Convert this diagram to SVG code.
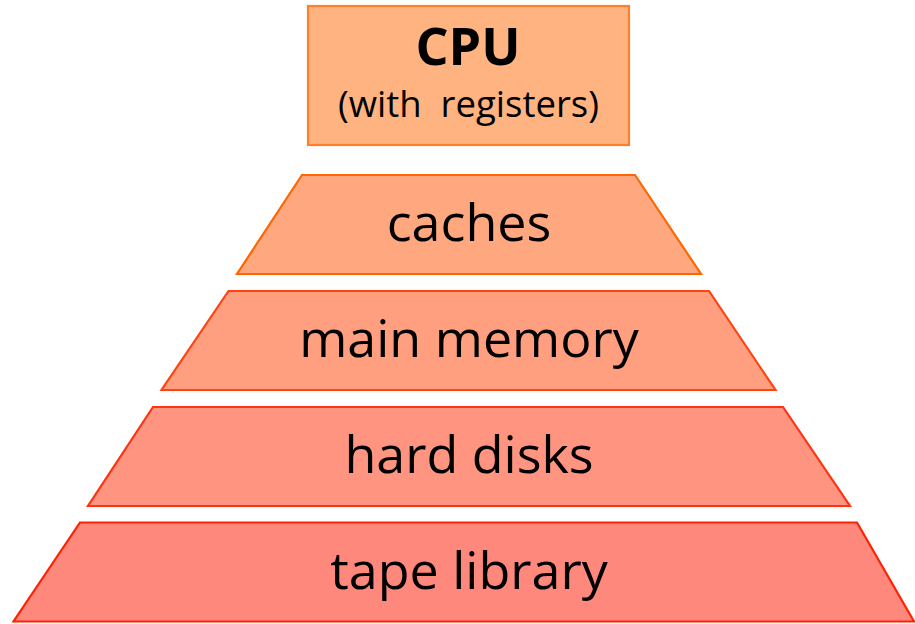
<svg xmlns="http://www.w3.org/2000/svg" width="915" height="624" viewBox="0 0 915 624">
<style>
  .lbl { font-family: "Open Sans", "Noto Sans", "Liberation Sans", sans-serif; fill: #000; text-anchor: middle; }
  .big { font-size: 52px; }
  .shape { stroke-width: 2.2; stroke-linejoin: miter; }
</style>
<rect width="915" height="624" fill="#ffffff"/>
<g id="cpu">
  <rect class="shape" x="308" y="6" width="321" height="139" fill="#FFB380" stroke="#FF7F2A"/>
  <text class="lbl" x="468" y="65" font-size="52" font-weight="bold">CPU</text>
  <text class="lbl" x="468.5" y="117" font-size="36.5" xml:space="preserve">(with  registers)</text>
</g>
<g id="caches">
  <polygon class="shape" points="302,175 635,175 701,274 237,274" fill="#FFA880" stroke="#FF6600"/>
  <text class="lbl big" x="469" y="241">caches</text>
</g>
<g id="main-memory">
  <polygon class="shape" points="228.5,291 709,291 775.5,390 161.5,390" fill="#FF9F80" stroke="#FF4411"/>
  <text class="lbl big" x="469" y="357">main memory</text>
</g>
<g id="hard-disks">
  <polygon class="shape" points="153,407 783,407 850,506 88,506" fill="#FF9580" stroke="#FF3311"/>
  <text class="lbl big" x="469" y="473">hard disks</text>
</g>
<g id="tape-library">
  <polygon class="shape" points="80,522.5 857,522.5 914,621.5 13.5,621.5" fill="#FF887C" stroke="#FF2200"/>
  <text class="lbl big" x="469" y="589">tape library</text>
</g>
<g id="connectors"></g>
</svg>
